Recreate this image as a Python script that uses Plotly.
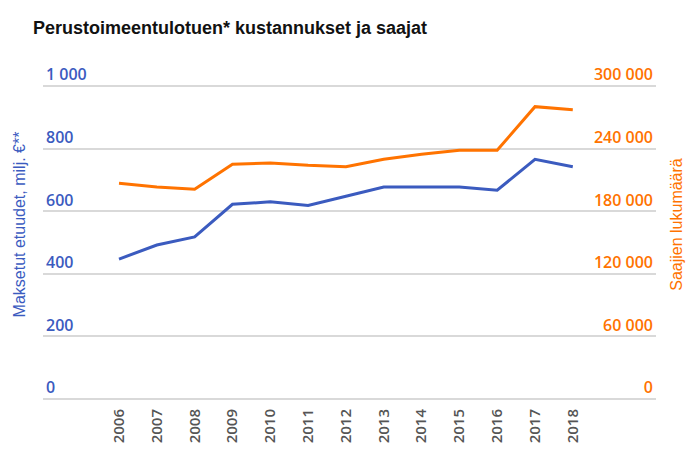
import plotly.graph_objects as go

years = [2006, 2007, 2008, 2009, 2010, 2011, 2012, 2013, 2014, 2015, 2016, 2017, 2018]
costs_meur = [447, 492, 518, 622, 630, 618, 648, 677, 677, 677, 667, 766, 742]
recipients = [206700, 203200, 201000, 225000, 226200, 224000, 222700, 229700, 234500, 238400, 238400, 280200, 277300]

left_ticks = [0, 200, 400, 600, 800, 1000]
left_labels = ["0", "200", "400", "600", "800", "1 000"]
right_ticks = [0, 60000, 120000, 180000, 240000, 300000]
right_labels = ["0", "60 000", "120 000", "180 000", "240 000", "300 000"]

BLUE = "#3b5bbf"
ORANGE = "#ff7300"
GRID = "#d9d9d9"

# plot area: y=0 at 399px, y=1000 at 86px; top of plot extended so top labels fit
top_px, zero_px, max_px = 50, 399, 86
left_max = 1000 * (zero_px - top_px) / (zero_px - max_px)
right_max = 300000 * (zero_px - top_px) / (zero_px - max_px)

fig = go.Figure()
fig.add_trace(go.Scatter(x=years, y=costs_meur, mode="lines", line=dict(color=BLUE, width=3),
                         yaxis="y", showlegend=False))
fig.add_trace(go.Scatter(x=years, y=recipients, mode="lines", line=dict(color=ORANGE, width=3),
                         yaxis="y2", showlegend=False))

fig.update_layout(
    width=688, height=452,
    margin=dict(l=43, r=32, t=top_px, b=452 - zero_px),
    paper_bgcolor="white", plot_bgcolor="white",
    title=dict(text="<b>Perustoimeentulotuen* kustannukset ja saajat</b>",
               x=33 / 688, xanchor="left", y=1 - 28 / 452, yanchor="middle",
               font=dict(family="Liberation Sans, Arial, sans-serif", size=18, color="#111111")),
    xaxis=dict(range=[2003.99, 2020.2], tickvals=years, ticktext=[str(y) for y in years],
               tickangle=-90, showgrid=False, zeroline=False, showline=False, ticks="",
               automargin=False, ticklabelstandoff=6,
               tickfont=dict(family="Open Sans, sans-serif", size=15, color="#555555", weight=600)),
    yaxis=dict(range=[0, left_max], tickvals=left_ticks, ticktext=left_labels,
               ticklabelposition="inside top", showgrid=True, gridcolor=GRID, gridwidth=1.5,
               zeroline=True, zerolinecolor=GRID, zerolinewidth=1.5, showline=False, ticks="",
               automargin=False,
               tickfont=dict(family="Open Sans, sans-serif", size=16, color=BLUE, weight=600),
               title=dict(text="Maksetut etuudet, milj. €**", standoff=16,
                          font=dict(family="Liberation Sans, Arial, sans-serif", size=16, color=BLUE))),
    yaxis2=dict(range=[0, right_max], tickvals=right_ticks, ticktext=right_labels, overlaying="y", side="right",
                ticklabelposition="inside top", showgrid=False, zeroline=False, showline=False, ticks="",
                automargin=False,
                tickfont=dict(family="Open Sans, sans-serif", size=16, color=ORANGE, weight=600),
                title=dict(text="Saajien lukumäärä", standoff=18,
                           font=dict(family="Liberation Sans, Arial, sans-serif", size=16, color=ORANGE))),
)

fig.write_html("out.html", config={"displayModeBar": False},
               post_script="document.body.style.margin='0';")
